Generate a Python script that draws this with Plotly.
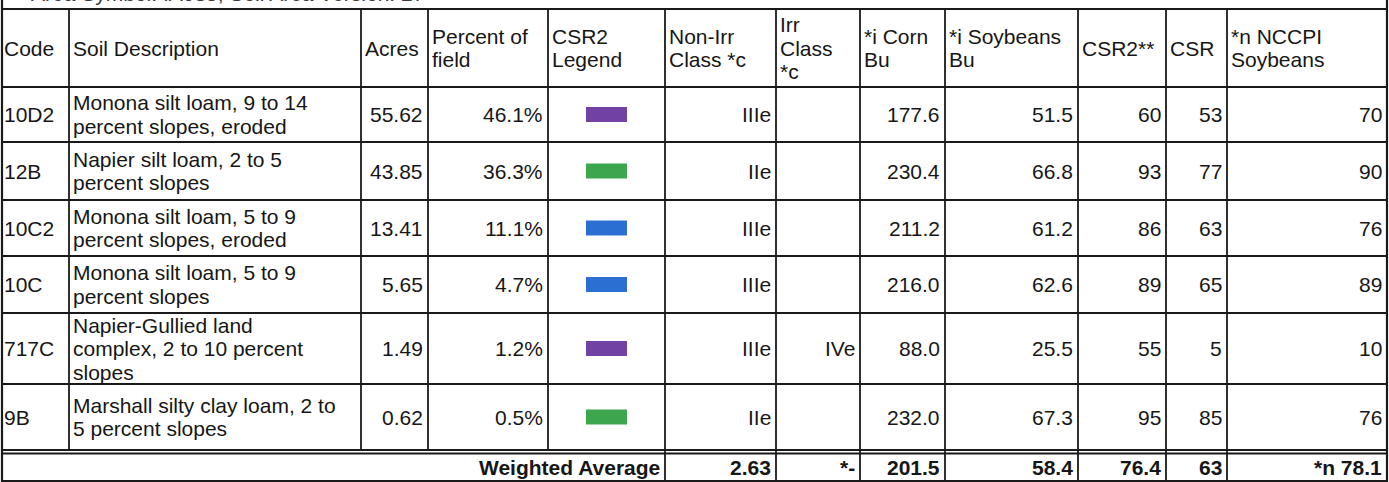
import plotly.graph_objects as go

# ---------------- data ----------------
codes = ["10D2", "12B", "10C2", "10C", "717C", "9B"]
descriptions = [
    "Monona silt loam, 9 to 14|percent slopes, eroded",
    "Napier silt loam, 2 to 5|percent slopes",
    "Monona silt loam, 5 to 9|percent slopes, eroded",
    "Monona silt loam, 5 to 9|percent slopes",
    "Napier-Gullied land|complex, 2 to 10 percent|slopes",
    "Marshall silty clay loam, 2 to|5 percent slopes",
]
acres = [55.62, 43.85, 13.41, 5.65, 1.49, 0.62]
percent_of_field = [46.1, 36.3, 11.1, 4.7, 1.2, 0.5]
csr2_legend = ["purple", "green", "blue", "blue", "purple", "green"]
non_irr_class = ["IIIe", "IIe", "IIIe", "IIIe", "IIIe", "IIe"]
irr_class = ["", "", "", "", "IVe", ""]
corn_bu = [177.6, 230.4, 211.2, 216.0, 88.0, 232.0]
soybeans_bu = [51.5, 66.8, 61.2, 62.6, 25.5, 67.3]
csr2 = [60, 93, 86, 89, 55, 95]
csr = [53, 77, 63, 65, 5, 85]
nccpi_soybeans = [70, 90, 76, 89, 10, 76]

header_labels = ["Code", "Soil Description", "Acres", "Percent of|field", "CSR2|Legend",
                 "Non-Irr|Class *c", "Irr|Class|*c", "*i Corn|Bu", "*i Soybeans|Bu",
                 "CSR2**", "CSR", "*n NCCPI|Soybeans"]
weighted_label = "Weighted Average"
weighted_values = ["2.63", "*-", "201.5", "58.4", "76.4", "63", "*n 78.1"]
top_note = "Area Symbol: IA085, Soil Area Version: 27"

# ---------------- layout / style ----------------
W, H = 1389, 482
col_x = [2, 69, 361, 428, 548, 665, 776, 860, 945, 1078, 1166, 1227, 1387]
row_y = [9, 87, 142, 200, 256, 313, 384, 450, 481]
legend_colors = {"purple": "#7141a3", "green": "#3ca64e", "blue": "#2b6fd2"}
FONT = "Liberation Sans, Arial, sans-serif"
FS = 21
LS = 23.5
TXT = "#161616"
LINE = "#1a1a1a"
PAD_L = 3
PAD_R = 4.5

fig = go.Figure()
shapes = []
annotations = []


def add_text(lines, x0, x1, y0, y1, align="left", bold=False, pad_l=PAD_L):
    n = len(lines)
    cy = (y0 + y1) / 2
    for i, t in enumerate(lines):
        y = cy + (i - (n - 1) / 2) * LS
        if align == "left":
            x, xa = x0 + pad_l, "left"
        else:
            x, xa = x1 - PAD_R, "right"
        annotations.append(dict(
            x=x, y=y, xref="x", yref="y", text=("<b>%s</b>" % t) if bold else t,
            showarrow=False, xanchor=xa, yanchor="middle", align=xa, borderpad=0,
            font=dict(family=FONT, size=FS, color=TXT)))


def line(x0, y0, x1, y1, w=1.8):
    shapes.append(dict(type="line", xref="x", yref="y", x0=x0, y0=y0, x1=x1, y1=y1,
                       line=dict(color=LINE, width=w)))


# top note, mostly cut off by the page edge as in the source
annotations.append(dict(x=30, y=1 + 7.0 / H, xref="x", yref="paper", text=top_note,
                        showarrow=False, xanchor="left", yanchor="middle", borderpad=0,
                        font=dict(family=FONT, size=FS, color="#3a3a3a")))

# header
for c, lab in enumerate(header_labels):
    add_text(lab.split("|"), col_x[c], col_x[c + 1], row_y[0], row_y[1], "left",
             pad_l=1 if c == 0 else PAD_L)

# body rows
for r in range(len(codes)):
    y0, y1 = row_y[r + 1], row_y[r + 2]
    cells = [
        ([codes[r]], "left"),
        (descriptions[r].split("|"), "left"),
        (["%.2f" % acres[r]], "right"),
        (["%.1f%%" % percent_of_field[r]], "right"),
        (None, None),
        ([non_irr_class[r]], "right"),
        ([irr_class[r]], "right"),
        (["%.1f" % corn_bu[r]], "right"),
        (["%.1f" % soybeans_bu[r]], "right"),
        (["%d" % csr2[r]], "right"),
        (["%d" % csr[r]], "right"),
        (["%d" % nccpi_soybeans[r]], "right"),
    ]
    for c, (txt, al) in enumerate(cells):
        if txt is None:
            cx = (col_x[c] + col_x[c + 1]) / 2
            cy = (y0 + y1) / 2
            shapes.append(dict(type="rect", xref="x", yref="y",
                               x0=cx - 20.5, x1=cx + 20.5, y0=cy - 7.5, y1=cy + 7.5,
                               fillcolor=legend_colors[csr2_legend[r]],
                               line=dict(width=0)))
        elif txt[0]:
            add_text(txt, col_x[c], col_x[c + 1], y0, y1, al,
                     pad_l=1 if c == 0 else PAD_L)

# weighted average row (below a double rule)
wy0, wy1 = row_y[-2] + 4, row_y[-1]
add_text([weighted_label], col_x[0], col_x[5], wy0, wy1, "right", bold=True)
for k, v in enumerate(weighted_values):
    add_text([v], col_x[5 + k], col_x[6 + k], wy0, wy1, "right", bold=True)

# grid lines
line(col_x[0], row_y[0], col_x[-1], row_y[0])
for y in row_y[1:-2]:
    line(col_x[0], y, col_x[-1], y)
line(col_x[0], row_y[-2], col_x[-1], row_y[-2], 1.8)
line(col_x[0], row_y[-2] + 3.5, col_x[-1], row_y[-2] + 3.5, 1.8)
line(col_x[0], row_y[-1], col_x[-1], row_y[-1], 2)
for x in col_x[1:-1]:
    line(x, row_y[0], x, row_y[-2])
for x in col_x[5:-1]:
    line(x, row_y[-2], x, row_y[-1])
line(col_x[0], 0, col_x[0], H, 2.2)
line(col_x[-1], 0, col_x[-1], H, 2.2)

fig.update_layout(
    width=W, height=H, margin=dict(l=0, r=0, t=0, b=0),
    paper_bgcolor="white", plot_bgcolor="white",
    xaxis=dict(range=[0, W], visible=False, fixedrange=True),
    yaxis=dict(range=[H, 0], visible=False, fixedrange=True),
    shapes=shapes, annotations=annotations, showlegend=False,
)
fig.write_html(
    "out.html",
    config={"displayModeBar": False},
    post_script="document.body.style.margin='0';document.body.style.overflow='hidden';",
)
